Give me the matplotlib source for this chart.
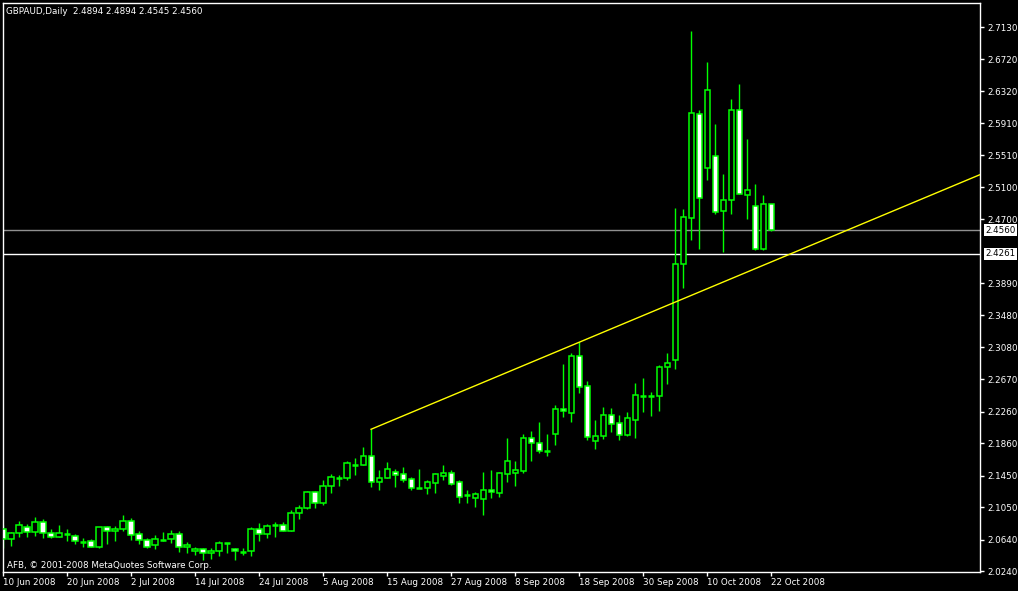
import matplotlib
matplotlib.use("Agg")
import matplotlib.pyplot as plt
from matplotlib.patches import Rectangle

BG, FG, GREEN, YELLOW = "black", "white", "#00FF00", "#FFFF00"
plt.rcParams["font.family"] = "DejaVu Sans"
FS = 6.3

# GBPAUD daily, 10 Jun 2008 - 22 Oct 2008
opens = [2.0773, 2.0647, 2.0722, 2.0806, 2.0735, 2.0862, 2.0722, 2.0679, 2.0716, 2.0684,
         2.0608, 2.0621, 2.0545, 2.0799, 2.0748, 2.0773, 2.0874, 2.0710, 2.0634, 2.0578,
         2.0641, 2.0647, 2.0710, 2.0545, 2.0502, 2.0520, 2.0469, 2.0495, 2.0596, 2.0524,
         2.0489, 2.0495, 2.0773, 2.0710, 2.0831, 2.0824, 2.0748, 2.0976, 2.1039, 2.1245,
         2.1102, 2.1317, 2.1426, 2.1426, 2.1587, 2.1591, 2.1697, 2.1375, 2.1426, 2.1494,
         2.1469, 2.1406, 2.1295, 2.1299, 2.1363, 2.1451, 2.1482, 2.1368, 2.1207, 2.1165,
         2.1160, 2.1266, 2.1236, 2.1477, 2.1482, 2.1514, 2.1924, 2.1861, 2.1768, 2.1983,
         2.2292, 2.2248, 2.2962, 2.2583, 2.1894, 2.1957, 2.2216, 2.2114, 2.1970, 2.2152,
         2.2463, 2.2463, 2.2463, 2.2823, 2.2912, 2.4127, 2.4709, 2.6025, 2.5350, 2.5494,
         2.4806, 2.4937, 2.6080, 2.5008, 2.4861, 2.4325, 2.4894]
highs = [2.0824, 2.0743, 2.0878, 2.0836, 2.0925, 2.0904, 2.0777, 2.0824, 2.0777, 2.0717,
         2.0659, 2.0650, 2.0806, 2.0815, 2.0815, 2.0950, 2.0916, 2.0748, 2.0667, 2.0697,
         2.0739, 2.0760, 2.0752, 2.0608, 2.0549, 2.0540, 2.0536, 2.0625, 2.0603, 2.0540,
         2.0532, 2.0806, 2.0849, 2.0836, 2.0862, 2.0862, 2.1017, 2.1077, 2.1262, 2.1262,
         2.1393, 2.1469, 2.1460, 2.1638, 2.1676, 2.1815, 2.2039, 2.1523, 2.1625, 2.1540,
         2.1558, 2.1431, 2.1536, 2.1393, 2.1485, 2.1587, 2.1523, 2.1393, 2.1270, 2.1245,
         2.1498, 2.1523, 2.1494, 2.1928, 2.1637, 2.1979, 2.2017, 2.2131, 2.1979, 2.2346,
         2.2865, 2.2999, 2.3140, 2.2650, 2.2156, 2.2321, 2.2308, 2.2219, 2.2257, 2.2624,
         2.2688, 2.2510, 2.2852, 2.3004, 2.4836, 2.4823, 2.7079, 2.6080, 2.6687, 2.5902,
         2.5270, 2.6219, 2.6409, 2.5712, 2.5143, 2.5004, 2.4894]
lows = [2.0540, 2.0565, 2.0675, 2.0679, 2.0692, 2.0667, 2.0659, 2.0672, 2.0628, 2.0583,
        2.0553, 2.0545, 2.0533, 2.0583, 2.0621, 2.0748, 2.0637, 2.0590, 2.0533, 2.0528,
        2.0621, 2.0603, 2.0489, 2.0469, 2.0443, 2.0384, 2.0393, 2.0431, 2.0469, 2.0384,
        2.0447, 2.0435, 2.0621, 2.0667, 2.0679, 2.0748, 2.0748, 2.0907, 2.1026, 2.1043,
        2.1077, 2.1236, 2.1321, 2.1401, 2.1460, 2.1591, 2.1312, 2.1270, 2.1426, 2.1312,
        2.1375, 2.1274, 2.1295, 2.1216, 2.1236, 2.1401, 2.1330, 2.1109, 2.1109, 2.1059,
        2.0958, 2.1165, 2.1185, 2.1375, 2.1325, 2.1489, 2.1637, 2.1742, 2.1701, 2.1840,
        2.2198, 2.2135, 2.2502, 2.1903, 2.1793, 2.1916, 2.2004, 2.1903, 2.1954, 2.1932,
        2.2261, 2.2210, 2.2274, 2.2615, 2.2805, 2.3831, 2.4434, 2.4321, 2.5194, 2.4763,
        2.4287, 2.4764, 2.5020, 2.4700, 2.4308, 2.4308, 2.4545]
closes = [2.0647, 2.0722, 2.0824, 2.0735, 2.0862, 2.0722, 2.0672, 2.0722, 2.0716, 2.0625,
          2.0608, 2.0553, 2.0799, 2.0748, 2.0777, 2.0874, 2.0704, 2.0634, 2.0553, 2.0647,
          2.0641, 2.0710, 2.0545, 2.0570, 2.0520, 2.0477, 2.0495, 2.0596, 2.0596, 2.0502,
          2.0489, 2.0773, 2.0710, 2.0811, 2.0831, 2.0748, 2.0976, 2.1039, 2.1245, 2.1102,
          2.1317, 2.1431, 2.1426, 2.1609, 2.1587, 2.1697, 2.1375, 2.1418, 2.1532, 2.1464,
          2.1401, 2.1299, 2.1295, 2.1372, 2.1469, 2.1482, 2.1350, 2.1185, 2.1207, 2.1216,
          2.1266, 2.1240, 2.1482, 2.1637, 2.1523, 2.1924, 2.1861, 2.1760, 2.1768, 2.2292,
          2.2266, 2.2962, 2.2570, 2.1945, 2.1950, 2.2216, 2.2109, 2.1970, 2.2178, 2.2468,
          2.2463, 2.2463, 2.2823, 2.2874, 2.4127, 2.4722, 2.6038, 2.4962, 2.6329, 2.4793,
          2.4937, 2.6080, 2.5020, 2.5063, 2.4325, 2.4886, 2.4560]

date_labels = ["10 Jun 2008", "20 Jun 2008", "2 Jul 2008", "14 Jul 2008", "24 Jul 2008",
               "5 Aug 2008", "15 Aug 2008", "27 Aug 2008", "8 Sep 2008", "18 Sep 2008",
               "30 Sep 2008", "10 Oct 2008", "22 Oct 2008"]
price_ticks = [2.7130, 2.6720, 2.6320, 2.5910, 2.5510, 2.5100, 2.4700, 2.3890, 2.3480,
               2.3080, 2.2670, 2.2260, 2.1860, 2.1450, 2.1050, 2.0640, 2.0240]
bid, hline = 2.4560, 2.4261
trend = [(46, 2.2039), (72, 2.3140)]   # anchors: bar index, price

W, H = 1018, 591
fig = plt.figure(figsize=(W / 100, H / 100), dpi=100, facecolor=BG)
ax = fig.add_axes([2.5 / W, 19 / H, 977.5 / W, 569 / H], facecolor=BG)
ax.set_xlim(-0.06, 122.1)
ax.set_ylim(2.02325, 2.7434)

# candles
bw = 0.64
for i, (o, h, l, c) in enumerate(zip(opens, highs, lows, closes)):
    ax.vlines(i, l, h, color=GREEN, lw=1, zorder=2)
    if abs(o - c) < 0.0008:
        ax.hlines(o, i - bw / 2 - 0.05, i + bw / 2 + 0.05, color=GREEN, lw=1.8, zorder=3)
    else:
        face = FG if c < o else BG
        ax.add_patch(Rectangle((i - bw / 2, min(o, c)), bw, abs(o - c), facecolor=face,
                               edgecolor=GREEN, lw=1.1, zorder=3))

# horizontal lines and trend line
ax.axhline(bid, color="#909090", lw=1, zorder=1)
ax.axhline(hline, color=FG, lw=1, zorder=1)
(x0, y0), (x1, y1) = trend
slope = (y1 - y0) / (x1 - x0)
xe = 130
ax.plot([x0, xe], [y0, y0 + slope * (xe - x0)], color=YELLOW, lw=1, zorder=4)

for v in (bid, hline):
    ax.annotate(f"{v:.4f}", xy=(1, v), xycoords=("axes fraction", "data"),
                xytext=(4, 0), textcoords="offset points", ha="left", va="center",
                fontsize=FS, color="black", annotation_clip=False,
                bbox=dict(boxstyle="square,pad=0.15", fc=FG, ec="none"))

# axes styling
for s in ax.spines.values():
    s.set_color(FG)
    s.set_linewidth(1)
ax.yaxis.tick_right()
ax.set_yticks(price_ticks)
ax.set_yticklabels([f"{v:.4f}" for v in price_ticks])
ax.set_xticks(range(0, 8 * len(date_labels), 8))
ax.set_xticklabels(date_labels)
ax.tick_params(axis="y", colors=FG, labelsize=FS, length=3, width=1, pad=2)
ax.tick_params(axis="x", colors=FG, labelsize=FS, length=3, width=1, pad=1.5)
for t in ax.get_xticklabels():
    t.set_horizontalalignment("left")

fig.text(6 / W, 1 - 11 / H, "GBPAUD,Daily  2.4894 2.4894 2.4545 2.4560",
         color=FG, fontsize=FS, va="center")
fig.text(7 / W, 1 - 565 / H, "AFB, © 2001-2008 MetaQuotes Software Corp.",
         color=FG, fontsize=FS, va="center")

fig.savefig("out.png", dpi=100, facecolor=BG)
